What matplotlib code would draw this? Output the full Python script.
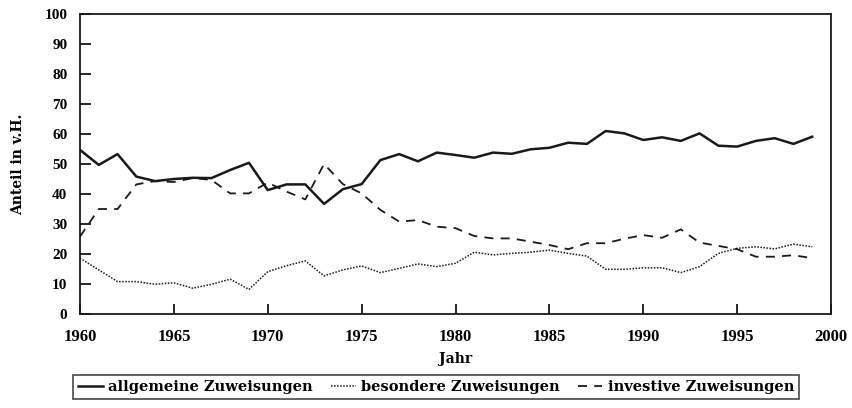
import numpy as np
import matplotlib
matplotlib.use('Agg')
import matplotlib.pyplot as plt

years = np.arange(1960, 2000)

allgemeine = [54.7, 49.7, 53.3, 45.8, 44.3, 45.0, 45.4, 45.3, 48.0, 50.4,
              41.3, 43.2, 43.2, 36.7, 41.6, 43.3, 51.3, 53.3, 50.9, 53.8,
              53.0, 52.1, 53.8, 53.4, 54.9, 55.4, 57.1, 56.7, 61.0, 60.2,
              58.0, 58.9, 57.7, 60.2, 56.1, 55.8, 57.7, 58.6, 56.7, 59.1]

besondere = [18.6, 14.7, 10.8, 10.8, 9.9, 10.4, 8.6, 9.9, 11.6, 8.2,
             14.1, 16.1, 17.7, 12.7, 14.7, 16.0, 13.8, 15.2, 16.7, 15.8,
             16.9, 20.6, 19.7, 20.2, 20.6, 21.3, 20.2, 19.3, 14.9, 14.9,
             15.4, 15.4, 13.8, 15.8, 20.2, 21.9, 22.4, 21.7, 23.3, 22.4]

investive = [25.8, 35.0, 35.0, 43.2, 44.3, 44.0, 45.3, 44.7, 40.2, 40.2,
             43.8, 40.8, 38.2, 50.0, 43.3, 40.2, 34.7, 30.8, 31.3, 29.1,
             28.6, 26.0, 25.2, 25.2, 24.1, 23.0, 21.6, 23.6, 23.6, 25.1,
             26.3, 25.4, 28.2, 23.8, 22.7, 21.6, 19.1, 19.1, 19.6, 18.6]

labels = ['allgemeine Zuweisungen', 'besondere Zuweisungen', 'investive Zuweisungen']

plt.rcParams['font.family'] = ['Liberation Serif', 'DejaVu Serif']
plt.rcParams['font.weight'] = 'bold'
# wider serif for the letter-spaced labels of the original
wide = ['DejaVu Serif', 'Liberation Serif']

fig = plt.figure(figsize=(8.53, 4.08), dpi=100)
ax = fig.add_axes([80/853, 1-314/408, 751/853, 300/408])

ax.plot(years, allgemeine, color='#1a1a1a', linewidth=1.8, linestyle='-', label=labels[0])
ax.plot(years, besondere, color='#1a1a1a', linewidth=1.1, linestyle=(0, (1, 1)), label=labels[1])
ax.plot(years, investive, color='#1a1a1a', linewidth=1.3, linestyle=(0, (5, 4)), label=labels[2])

ax.set_xlim(1960, 2000)
ax.set_ylim(0, 100)
ax.set_xticks(np.arange(1960, 2001, 5))
ax.set_yticks(np.arange(0, 101, 10))
ax.tick_params(axis='x', direction='in', length=7, width=1.2, pad=11, labelsize=12)
ax.tick_params(axis='y', direction='in', length=8, width=1.2, pad=9, labelsize=11)
for s in ax.spines.values():
    s.set_linewidth(1.3)
    s.set_color('#1a1a1a')

ax.set_xlabel('Jahr', fontsize=10, fontweight='bold', family=wide, labelpad=5)
ax.set_ylabel('Anteil in v.H.', fontsize=10, fontweight='bold', family=wide, labelpad=14)

leg = fig.legend(loc='upper left', bbox_to_anchor=(73/853, 1-375/408),
                 ncol=3, frameon=True, fancybox=False,
                 edgecolor='#1a1a1a', handlelength=1.7, handletextpad=0.35,
                 columnspacing=1.25, borderpad=0.35, borderaxespad=0,
                 prop={'weight': 'bold', 'size': 10.5, 'family': wide})
leg.get_frame().set_linewidth(1.2)

fig.savefig('out.png', dpi=100)
